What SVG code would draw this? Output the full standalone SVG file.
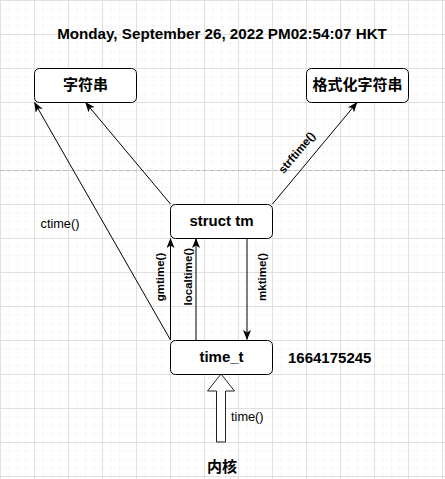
<svg xmlns="http://www.w3.org/2000/svg" width="445" height="479" viewBox="0 0 445 479">
<style>
text{font-family:"Liberation Sans",Arial,"Noto Sans CJK SC",sans-serif;fill:#000}
.b{font-weight:bold}
.t15{font-size:15px}
.lbl{font-size:12.75px}
.rot{font-size:11.5px;font-weight:bold}
.box{fill:#fff;stroke:#000;stroke-width:1}
.c{fill:none;stroke:#000;stroke-width:1}
</style>
<defs>
<pattern id="minor" width="8.5" height="8.5" patternUnits="userSpaceOnUse">
<path d="M0,0 H8.5 M0,0 V8.5" fill="none" stroke="#f1f1f1" stroke-width="1"/>
</pattern>
<pattern id="major" width="34" height="34" patternUnits="userSpaceOnUse">
<path d="M0,0.5 H34 M0.5,0 V34" fill="none" stroke="#e0e0e0" stroke-width="1"/>
</pattern>
<marker id="arr" viewBox="0 0 10 8" refX="9.5" refY="4" markerWidth="10" markerHeight="8" markerUnits="userSpaceOnUse" orient="auto">
<path d="M0,0 L10,4 L0,8 L2.5,4 Z" fill="#000"/>
</marker>
</defs>
<rect width="445" height="479" fill="#fff"/>
<rect width="445" height="479" fill="url(#minor)"/>
<rect x="-0.5" y="-0.5" width="446" height="480" fill="url(#major)"/>
<line x1="0" y1="170.5" x2="445" y2="170.5" stroke="#b8b8b8" stroke-width="1" stroke-dasharray="4 3"/>

<text id="title" class="b" x="222" y="39" text-anchor="middle" font-size="15.2">Monday, September 26, 2022 PM02:54:07 HKT</text>

<g id="connectors">
<line class="c" x1="170.5" y1="340" x2="34.5" y2="102.5" marker-end="url(#arr)"/>
<line class="c" x1="170.5" y1="204" x2="85.5" y2="102.5" marker-end="url(#arr)"/>
<line class="c" x1="272.5" y1="204" x2="357" y2="102.5" marker-end="url(#arr)"/>
<line class="c" x1="170.5" y1="340" x2="170.5" y2="238.5" marker-end="url(#arr)"/>
<line class="c" x1="196" y1="340" x2="196" y2="238.5" marker-end="url(#arr)"/>
<line class="c" x1="247" y1="238" x2="247" y2="339.5" marker-end="url(#arr)"/>
<polygon points="221,374 234.5,391 225.5,391 225.5,442 216.5,442 216.5,391 207.5,391" fill="#fff" stroke="#222" stroke-width="1"/>
<text class="lbl" x="40.5" y="228">ctime()</text>
<text class="lbl" x="231" y="421">time()</text>
<text class="rot" x="0" y="0" text-anchor="middle" dominant-baseline="central" transform="translate(160,277) rotate(-90)">gmtime()</text>
<text class="rot" x="0" y="0" text-anchor="middle" dominant-baseline="central" transform="translate(187.7,276.7) rotate(-90)">localtime()</text>
<text class="rot" x="0" y="0" text-anchor="middle" dominant-baseline="central" transform="translate(261.7,277) rotate(-90)">mktime()</text>
<text class="rot" x="0" y="0" text-anchor="middle" dominant-baseline="central" transform="translate(296.7,152.5) rotate(-50)">strftime()</text>
</g>

<g id="node-string">
<rect class="box" x="34.5" y="68.5" width="102" height="34" rx="5"/>
<text class="b t15" x="85.5" y="90" text-anchor="middle">字符串</text>
</g>
<g id="node-fmtstring">
<rect class="box" x="306.5" y="68.5" width="102" height="34" rx="5"/>
<text class="b t15" x="357.5" y="90" text-anchor="middle">格式化字符串</text>
</g>
<g id="node-structtm">
<rect class="box" x="170.5" y="204.5" width="102" height="34" rx="5"/>
<text class="b t15" x="221.5" y="226" text-anchor="middle">struct tm</text>
</g>
<g id="node-timet">
<rect class="box" x="170.5" y="340.5" width="102" height="34" rx="5"/>
<text class="b t15" x="221.5" y="362" text-anchor="middle">time_t</text>
</g>
<g id="node-value">
<text class="b t15" x="288" y="362.5">1664175245</text>
</g>
<g id="node-kernel">
<text class="b t15" x="222" y="472" text-anchor="middle">内核</text>
</g>
</svg>
